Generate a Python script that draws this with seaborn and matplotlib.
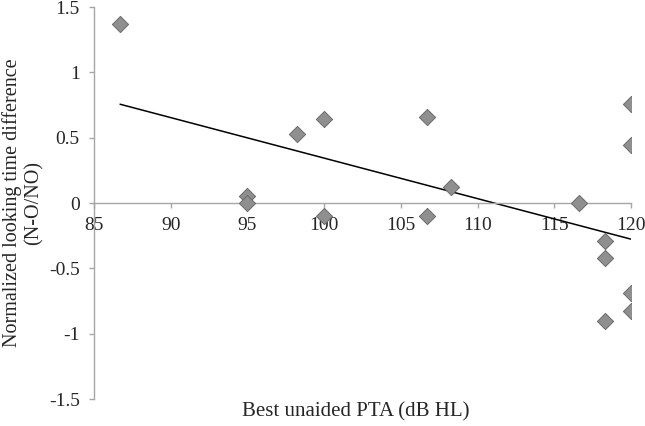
import numpy as np
import pandas as pd
import matplotlib
matplotlib.use("Agg")
import matplotlib.pyplot as plt
import seaborn as sns

pta = [86.7, 95.0, 95.0, 98.2, 100.0, 100.0, 106.7, 106.7, 108.3,
       116.6, 118.3, 118.3, 118.3, 120.0, 120.0, 120.0, 120.0]
ltd = [1.37, 0.05, 0.00, 0.53, 0.645, -0.10, 0.66, -0.10, 0.12,
       0.00, -0.29, -0.42, -0.905, 0.757, 0.444, -0.685, -0.83]
x_ticks = [85, 90, 95, 100, 105, 110, 115, 120]
y_ticks = [-1.5, -1, -0.5, 0, 0.5, 1, 1.5]
y_tick_labels = ["-1.5", "-1", "-0.5", "0", "0.5", "1", "1.5"]

df = pd.DataFrame({"pta": pta, "ltd": ltd})

sns.set_style("white")
plt.rcParams["font.family"] = ["Liberation Serif", "DejaVu Serif"]

fig = plt.figure(figsize=(6.45, 4.26), dpi=100)
ax = fig.add_axes([94/645, 1-399/426, (631-94)/645, (399-7)/426])

sns.regplot(data=df, x="pta", y="ltd", ci=None, ax=ax, scatter=False,
            line_kws=dict(color="black", lw=1.1))
sns.scatterplot(data=df, x="pta", y="ltd", ax=ax, marker="D", s=68,
                color="#8f8f8f", edgecolor="#6a6a6a", linewidth=0.7, zorder=5)

ax.set_xlim(85, 120)
ax.set_ylim(-1.5, 1.5)
ax.set_xticks(x_ticks)
ax.set_yticks(y_ticks)
ax.set_yticklabels(y_tick_labels)
ax.spines["bottom"].set_position(("data", 0))
for s in ["top", "right"]:
    ax.spines[s].set_visible(False)
for s in ["left", "bottom"]:
    ax.spines[s].set_color("#a6a6a6")
    ax.spines[s].set_linewidth(1.0)
ax.tick_params(axis="both", which="both", length=3.8, width=1.0, color="#a6a6a6",
               labelsize=14, direction="out", left=True, bottom=True)
ax.tick_params(axis="y", pad=6.5)
ax.tick_params(axis="x", pad=6.5)
ax.set_xlabel("")
ax.set_ylabel("")
ax.patch.set_alpha(0)
for t in ax.get_xticklabels():
    t.set_clip_on(False)

fig.text((243+469)/2/645, 1-412/426, "Best unaided PTA (dB HL)", ha="center",
         va="center", fontsize=15)
fig.text(23/645, 1-203/426, "Normalized looking time difference\n(N-O/NO)",
         ha="center", va="center", rotation=90, fontsize=14.5, linespacing=1.2)

fig.savefig("out.png", dpi=100)
